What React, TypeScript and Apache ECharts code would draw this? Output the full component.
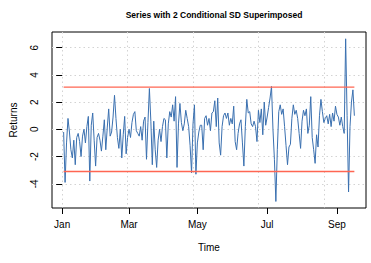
import React, { useEffect, useRef } from "react";
import * as echarts from "echarts";

// Daily returns
const returns = [
  -0.2, -3.9, -1.0, 0.8, -0.2, -1.5, -2.1, -0.8, -2.6, -0.6, -0.3, -0.9, -2.0, -0.5, 0.0, -1.0, 0.2, 0.95, -3.8, 0.3, 1.2, -0.8, -2.7, -0.6, -0.3, -0.8, -1.6, -0.5, 0.7,
  -1.5, 0.1, 1.5, -0.5, -0.2, 0.9, 2.5, 0.8, -0.6, -1.4, 0.0, -2.1, -0.4, 0.95, -1.8, -0.6, 0.0, -0.6, 0.5, 1.1, 1.3, -0.1, -0.3, -0.5, 0.2, -0.8, 0.6, 0.9, -2.2, 0.5, 3.0, 0.6, -2.6,
  0.6, -1.5, -2.8, -0.8, 0.0, -0.9, 0.2, 0.8, 0.7, -2.1, 0.4, 1.3, 0.9, 1.8, 0.6, 2.4, -2.8, 0.4, 1.9, 0.5, -0.1, 0.4, 1.4, 0.8, 0.2, -1.2, -3.2, 0.4, 1.8, -3.3, -1.0, -0.2, 0.3,
  0.3, -1.5, 0.8, 1.0, 0.3, 0.8, -0.1, 1.2, 1.3, 2.1, 0.2, 2.3, -1.0, -1.9, 0.2, 1.0, 1.2, 0.8, 1.2, 0.3, 0.8, 0.4, 1.7, -0.9, -1.5, -0.3, 0.4, 0.7, -1.0, -2.7, 0.2, 2.2, 1.2,
  1.3, 0.4, 0.2, 0.6, 0.2, -0.9, 1.4, 0.5, 1.5, -0.4, 2.0, 0.3, 0.9, 1.6, 2.3, 3.15, 0.0, -2.2, -5.3, -1.5, 1.3, 1.8, 1.1, 1.5, 0.2, -1.2, -2.6, -1.3, -1.1, 0.8, 1.8, 1.1, 1.4,
  0.8, -0.3, -1.4, 0.6, 1.4, 1.0, 1.5, -0.3, 0.3, 2.4, -0.6, -1.5, -2.5, -0.4, -1.3, 1.0, 2.2, 1.3, 0.5, 0.8, 1.0, 0.4, 1.1, 0.2, 1.2, 0.6, 1.7, 1.1, 0.9, 0.3, 0.9, 0.2, -0.3, 6.65, 1.0, -4.6, 0.2, 2.0, 2.9, 1.0,
];

// +/- 2 conditional SD (flat over the sample)
const sdUpper = 3.1;
const sdLower = -3.1;

const monthLabels = ["Jan", "Mar", "May", "Jul", "Sep"];
const monthTickIndex = [0, 46, 93, 141, 189];
const xGridTicks = [0, 45, 90, 135, 180];
const yTicks = [-4, -2, 0, 2, 4, 6];

const FONT = "'Liberation Sans', Arial, Helvetica, sans-serif";
const BLUE = "#3a70b0";
const RED = "#ff6652";

export default function App() {
  const ref = useRef<HTMLDivElement>(null);
  useEffect(() => {
    const chart = echarts.init(ref.current!, null, { renderer: "svg" });
    const n = returns.length;
    const pad = 0.04 * (n - 1);
    const xMin = 1 - pad;
    const xMax = n + pad;
    const gridLine = { color: "#d3d3d3", width: 1, type: [1.5, 3] as any };

    const band = (name: string, v: number) => ({
      name,
      type: "line",
      xAxisIndex: 0,
      data: [
        [1, v],
        [n, v],
      ],
      symbol: "none",
      lineStyle: { color: RED, width: 1.4 },
      z: 3,
    });

    chart.setOption({
      animation: false,
      backgroundColor: "#fff",
      color: [BLUE, RED, RED],
      textStyle: { fontFamily: FONT },
      title: {
        text: "Series with 2 Conditional SD Superimposed",
        left: 209,
        top: 5,
        textAlign: "center",
        textStyle: { fontSize: 8.5, fontWeight: "bold", color: "#000", fontFamily: FONT },
      },
      grid: {
        left: 52,
        right: 5,
        top: 32,
        bottom: 55,
        show: true,
        borderColor: "#000",
        borderWidth: 1,
        backgroundColor: "transparent",
      },
      xAxis: [
        {
          type: "value",
          min: xMin,
          max: xMax,
          axisLine: { show: false },
          axisTick: { show: false, customValues: xGridTicks },
          axisLabel: { show: false },
          splitLine: { show: true, lineStyle: gridLine },
        },
        {
          type: "value",
          min: xMin,
          max: xMax,
          position: "bottom",
          axisLine: { show: false },
          axisTick: { show: true, customValues: monthTickIndex, length: 6, lineStyle: { color: "#000", width: 1 } },
          axisLabel: {
            customValues: monthTickIndex,
            formatter: (v: number) => {
              const k = monthTickIndex.indexOf(v);
              return k >= 0 ? monthLabels[k] : "";
            },
            fontSize: 10,
            color: "#000",
            margin: 11,
            fontFamily: FONT,
          },
          splitLine: { show: false },
          name: "Time",
          nameLocation: "middle",
          nameGap: 34,
          nameTextStyle: { fontSize: 10, color: "#000", fontFamily: FONT },
        },
      ],
      yAxis: {
        type: "value",
        min: -5.78,
        max: 7.15,
        axisLine: { show: false },
        axisTick: { show: true, customValues: yTicks, length: 6, lineStyle: { color: "#000", width: 1 } },
        axisLabel: {
          customValues: yTicks,
          rotate: 90,
          fontSize: 10,
          color: "#000",
          margin: 13,
          fontFamily: FONT,
        },
        splitLine: { show: true, lineStyle: gridLine },
        name: "Returns",
        nameLocation: "middle",
        nameRotate: 90,
        nameGap: 34,
        nameTextStyle: { fontSize: 10, color: "#000", fontFamily: FONT },
      },
      series: [
        {
          name: "returns",
          type: "line",
          xAxisIndex: 0,
          data: returns.map((v, i) => [i + 1, v]),
          symbol: "none",
          lineStyle: { color: BLUE, width: 1 },
          z: 2,
        },
        band("upper", sdUpper),
        band("lower", sdLower),
      ],
    });
    return () => chart.dispose();
  }, []);
  return (
    <div
      ref={ref}
      style={{ position: "fixed", left: 0, top: 0, width: 371, height: 263, background: "#fff" }}
    />
  );
}
